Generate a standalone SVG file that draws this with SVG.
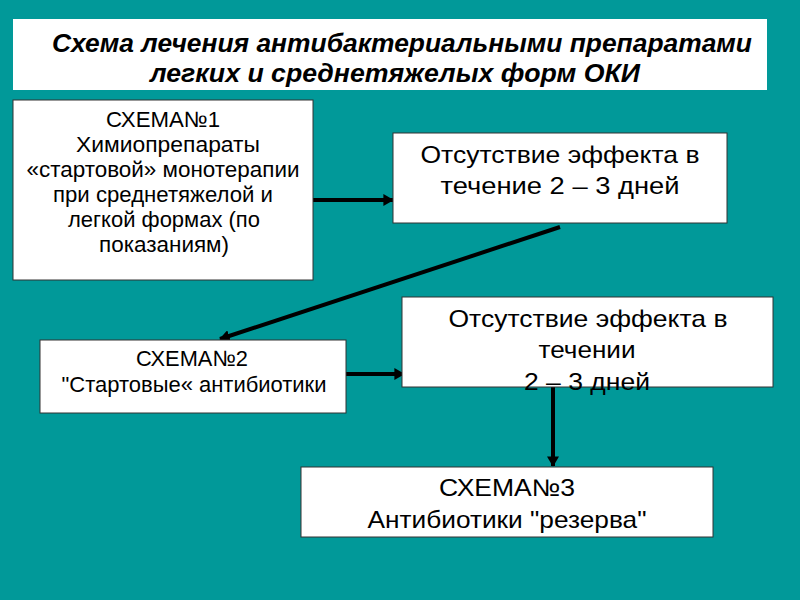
<svg xmlns="http://www.w3.org/2000/svg" width="800" height="600" viewBox="0 0 800 600">
<style>
.bg{fill:#019999}
.box{fill:#fff;stroke:#333;stroke-width:1}
.t{font-family:"Liberation Sans",Arial,sans-serif;fill:#000;text-anchor:middle}
.s20{font-size:22px}
.s22{font-size:24px}
.title{font-family:"Liberation Sans",Arial,sans-serif;font-size:25px;font-weight:bold;font-style:italic;text-anchor:middle;fill:#000}
.c{stroke:#000;stroke-width:4;fill:none;marker-end:url(#ah)}
</style>
<defs>
<marker id="ah" markerWidth="3" markerHeight="3" refX="2.4" refY="1.5" orient="auto" markerUnits="strokeWidth">
<path d="M0,0 L2.6,1.5 L0,3 Z" fill="#000"/>
</marker>
</defs>
<rect class="bg" x="0" y="0" width="800" height="600"/>
<g id="title">
<rect x="13" y="19" width="754" height="71" fill="#fff"/>
<text class="title" x="402" y="52" textLength="700" lengthAdjust="spacingAndGlyphs">Схема лечения антибактериальными препаратами</text>
<text class="title" x="395" y="82" textLength="490" lengthAdjust="spacingAndGlyphs">легких и среднетяжелых форм ОКИ</text>
</g>
<g id="connectors">
<line class="c" x1="313" y1="200" x2="393" y2="200"/>
<line class="c" x1="560" y1="227" x2="220" y2="339"/>
<line class="c" x1="346" y1="374" x2="404" y2="374"/>
<line class="c" x1="553" y1="387" x2="553" y2="466"/>
</g>
<g id="scheme1">
<rect class="box" x="13" y="100" width="300" height="180"/>
<text class="t s20" x="163" y="127" textLength="114" lengthAdjust="spacingAndGlyphs">СХЕМА№1</text>
<text class="t s20" x="168" y="152" textLength="184" lengthAdjust="spacingAndGlyphs">Химиопрепараты</text>
<text class="t s20" x="163" y="177" textLength="273" lengthAdjust="spacingAndGlyphs">«стартовой» монотерапии</text>
<text class="t s20" x="163" y="202" textLength="220" lengthAdjust="spacingAndGlyphs">при среднетяжелой и</text>
<text class="t s20" x="164" y="227" textLength="192" lengthAdjust="spacingAndGlyphs">легкой формах (по</text>
<text class="t s20" x="164" y="252" textLength="130" lengthAdjust="spacingAndGlyphs">показаниям)</text>
</g>
<g id="noeffect1">
<rect class="box" x="393" y="133" width="334" height="90"/>
<text class="t s22" x="560" y="163" textLength="279" lengthAdjust="spacingAndGlyphs">Отсутствие эффекта  в</text>
<text class="t s22" x="560" y="194" textLength="239" lengthAdjust="spacingAndGlyphs">течение  2 – 3 дней</text>
</g>
<g id="scheme2">
<rect class="box" x="40" y="340" width="306" height="73"/>
<text class="t s20" x="192" y="366" textLength="112" lengthAdjust="spacingAndGlyphs">СХЕМА№2</text>
<text class="t s20" x="194" y="392" textLength="265" lengthAdjust="spacingAndGlyphs">"Стартовые« антибиотики</text>
</g>
<g id="noeffect2">
<rect class="box" x="402" y="297" width="371" height="90"/>
<text class="t s22" x="588" y="327" textLength="279" lengthAdjust="spacingAndGlyphs">Отсутствие эффекта  в</text>
<text class="t s22" x="587" y="358" textLength="97" lengthAdjust="spacingAndGlyphs">течении</text>
<text class="t s22" x="587" y="390" textLength="126" lengthAdjust="spacingAndGlyphs">2 – 3 дней</text>
</g>
<g id="scheme3">
<rect class="box" x="301" y="467" width="412" height="70"/>
<text class="t s22" x="507" y="496" textLength="136" lengthAdjust="spacingAndGlyphs">СХЕМА№3</text>
<text class="t s22" x="507" y="528" textLength="279" lengthAdjust="spacingAndGlyphs">Антибиотики "резерва"</text>
</g>
</svg>
